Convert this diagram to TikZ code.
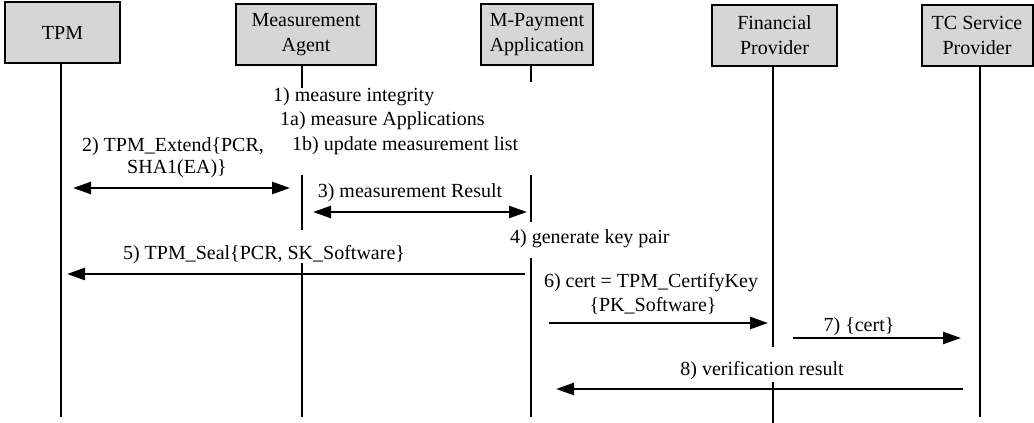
\documentclass[tikz,border=0pt]{standalone}
\usepackage{fontspec}
\setmainfont{Liberation Serif}
\usetikzlibrary{arrows.meta}
\definecolor{boxgray}{RGB}{214,214,214}
\begin{document}
\begin{tikzpicture}[x=1pt,y=-1pt,
  every node/.style={font=\fontsize{20}{25}\selectfont, inner sep=0pt},
  actor/.style={draw, line width=2pt, fill=boxgray, align=center, minimum height=61pt},
  life/.style={line width=2pt},
  tip/.tip={Triangle[length=18pt,width=12pt]},
  msg/.style={line width=2.5pt, -tip},
  dmsg/.style={line width=2.5pt, tip-tip},
  note/.style={anchor=west},
  lbl/.style={anchor=center}
]
\useasboundingbox (0,0) rectangle (1034,423);

% participants
\node[actor, minimum width=115pt] (tpm)  at (62.5,32.5) {TPM};
\node[actor, minimum width=140pt] (ma)   at (306,34.5)  {Measurement\\Agent};
\node[actor, minimum width=112pt] (mpa)  at (537,34.5)  {M-Payment\\Application};
\node[actor, minimum width=125pt] (fp)   at (774.5,35.5) {Financial\\Provider};
\node[actor, minimum width=111pt] (tcsp) at (977,35.5)  {TC Service\\Provider};

% lifeline columns and end points
\coordinate (xT) at (61,0);
\coordinate (xA) at (302,0);
\coordinate (xM) at (531,0);
\coordinate (xF) at (773,0);
\coordinate (xS) at (980,0);
\coordinate (bot) at (0,417);

\coordinate (a1) at (302,88);   \coordinate (a2) at (302,175);
\coordinate (a3) at (302,230);  \coordinate (a4) at (302,263);
\coordinate (m1) at (531,82);   \coordinate (m2) at (531,175);
\coordinate (m3) at (531,222);  \coordinate (m4) at (531,258);
\coordinate (f1) at (773,347);  \coordinate (f2) at (773,382);
\coordinate (f3) at (773,423);

% lifelines
\draw[life] (tpm.south -| xT) -- (xT |- bot);
\draw[life] (ma.south -| xA) -- (a1);
\draw[life] (a2) -- (a3);
\draw[life] (a4) -- (xA |- bot);
\draw[life] (mpa.south -| xM) -- (m1);
\draw[life] (m2) -- (m3);
\draw[life] (m4) -- (xM |- bot);
\draw[life] (fp.south -| xF) -- (f1);
\draw[life] (f2) -- (f3);
\draw[life] (tcsp.south -| xS) -- (xS |- bot);

% step 1: local measurement
\node[note] (n1)  at (273,97)  {1) measure integrity};
\node[note] (n1a) at (280,121) {1a) measure Applications};
\node[note] (n1b) at (292,146) {1b) update measurement list};

% step 2
\node[lbl] (l2a) at (173,147) {2) TPM\_Extend\{PCR,};
\node[lbl] (l2b) at (177,169) {SHA1(EA)\}};
\coordinate (s2l) at (73,188);
\coordinate (s2r) at (290,188);
\draw[dmsg] (s2l) -- (s2r);

% step 3
\node[lbl] (l3) at (410,193) {3) measurement Result};
\coordinate (s3l) at (313,212);
\coordinate (s3r) at (527,212);
\draw[dmsg] (s3l) -- (s3r);

% step 4
\node[note] (n4) at (510,239) {4) generate key pair};

% step 5
\node[lbl] (l5) at (264,255) {5) TPM\_Seal\{PCR, SK\_Software\}};
\coordinate (s5a) at (525,274);
\coordinate (s5b) at (67,274);
\draw[msg] (s5a) -- (s5b);

% step 6
\node[lbl] (l6a) at (651,283) {6) cert = TPM\_CertifyKey};
\node[lbl] (l6b) at (653,306) {\{PK\_Software\}};
\coordinate (s6a) at (549,323);
\coordinate (s6b) at (768,323);
\draw[msg] (s6a) -- (s6b);

% step 7
\node[lbl] (l7) at (859,327) {7) \{cert\}};
\coordinate (s7a) at (793,338);
\coordinate (s7b) at (961,338);
\draw[msg] (s7a) -- (s7b);

% step 8
\node[lbl] (l8) at (762,371) {8) verification result};
\coordinate (s8a) at (963,389);
\coordinate (s8b) at (556,389);
\draw[msg] (s8a) -- (s8b);
\end{tikzpicture}
\end{document}
